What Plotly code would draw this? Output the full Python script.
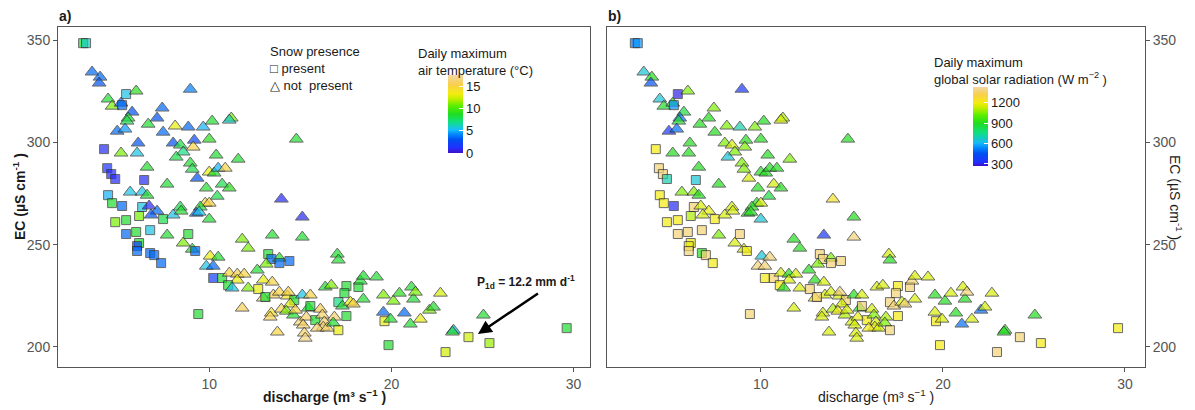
import plotly.graph_objects as go

# ---------------- data ----------------
discharge = [3.08,3.24,3.57,4.01,3.96,5.44,5.99,4.45,4.67,5.16,
5.22,5.77,5.55,5.49,4.95,5.38,7.42,7.14,6.65,7.47,
8.96,8.13,8.85,9.67,10.16,11.21,11.10,6.10,8.02,8.41,
9.18,10.0,9.12,8.57,8.19,10.38,11.59,4.23,5.16,6.04,
14.78,6.59,8.96,9.07,10.0,10.27,10.49,10.88,4.40,4.62,
4.84,6.43,9.34,7.69,9.84,10.71,11.10,10.44,4.45,5.66,
6.32,6.59,13.96,15.11,9.78,10.0,8.41,9.51,4.67,5.22,
6.32,6.70,7.14,6.81,7.47,8.02,8.46,9.29,9.45,10.0,
4.84,5.44,6.15,5.44,5.99,6.76,7.69,8.85,8.57,9.07,
9.23,6.15,6.04,6.04,6.76,6.98,7.36,10.05,10.49,9.84,
10.22,10.22,10.71,11.10,11.54,11.92,11.54,12.64,12.97,11.04,
11.26,12.14,12.69,13.46,13.52,12.97,11.81,9.40,11.81,12.14,
13.46,15.11,13.24,13.41,13.85,13.85,13.13,14.40,13.08,13.85,
14.29,14.34,14.67,15.11,15.55,13.41,13.35,13.96,14.45,14.23,
14.62,14.73,15.44,15.55,15.0,15.33,15.16,15.82,16.10,16.21,
16.32,16.26,15.93,16.48,16.87,16.81,17.09,13.74,15.22,15.27,
16.37,16.70,17.03,17.09,17.53,17.42,17.09,17.31,17.53,17.75,
17.91,18.19,18.30,18.46,18.46,19.18,19.56,20.11,20.44,21.10,
21.21,21.32,22.69,19.56,19.62,19.95,20.71,21.04,21.59,22.09,
22.31,23.41,23.35,25.05,19.84,22.97,24.23,25.38,29.62]

ec = [348.5,348.5,334.4,331.9,329.0,323.6,325.1,321.2,317.7,319.2,
318.2,314.8,311.9,310.4,305.5,306.5,316.8,311.9,308.9,305.0,
326.0,308.0,307.5,307.5,310.4,311.9,310.9,299.7,299.7,298.7,
301.1,301.6,297.7,295.3,292.8,293.8,291.8,296.7,294.8,294.8,
301.6,287.9,289.9,286.9,285.5,285.0,287.4,287.4,287.4,284.5,
282.1,281.6,282.5,279.6,277.7,279.6,277.7,273.7,274.2,275.7,
275.7,274.2,272.3,263.5,270.3,270.3,268.4,268.4,270.3,268.9,
268.4,268.9,266.4,264.5,262.5,264.5,266.4,265.4,265.9,262.5,
261.0,262.0,264.0,255.2,256.2,257.1,254.7,255.2,250.8,247.8,
246.9,250.8,249.3,246.9,245.9,244.9,241.0,244.4,243.9,239.5,
239.5,233.7,233.7,236.1,235.6,235.6,232.7,237.6,232.7,230.2,
228.8,228.8,228.3,231.7,225.4,223.9,219.0,216.1,252.7,248.3,
254.7,253.7,245.4,243.0,243.4,241.0,240.5,242.0,224.4,226.8,
224.9,226.8,222.9,225.4,225.4,216.6,214.6,218.5,221.0,217.5,
215.6,218.0,219.0,220.0,212.2,214.6,210.7,213.1,218.5,215.6,
212.2,209.7,209.2,209.2,214.6,211.7,208.2,207.3,206.8,204.3,
229.3,230.2,245.4,242.5,229.8,226.3,221.9,220.0,215.1,221.9,
221.0,229.3,232.2,234.6,223.4,234.2,225.4,222.4,226.3,229.3,
223.4,226.8,226.3,217.0,212.6,213.6,216.6,211.2,213.6,218.0,
219.5,208.2,207.3,215.6,200.9,197.5,204.8,201.9,209.2]

snow = [1,1,0,0,0,1,0,0,0,0,
1,0,0,0,0,0,0,0,0,0,
0,0,0,0,0,0,0,0,0,0,
0,0,0,0,0,0,0,1,0,0,
0,0,0,0,0,0,0,0,1,1,
1,1,0,0,0,0,0,0,1,0,
0,0,0,0,0,0,0,0,1,1,
1,0,0,0,1,0,0,0,0,0,
1,1,1,1,1,1,0,1,0,0,
1,1,1,1,1,1,1,0,0,0,
0,1,1,0,0,0,0,0,0,1,
0,0,1,0,0,0,0,1,0,0,
0,0,1,1,0,1,0,1,1,0,
0,0,1,0,0,0,0,0,0,0,
0,0,0,1,0,0,0,1,0,0,
0,0,0,0,0,0,1,0,0,0,
0,0,0,0,1,1,1,0,1,0,
0,1,0,0,0,0,0,0,0,0,
0,0,0,0,1,0,0,0,0,0,
0,0,0,0,1,1,1,1,1]

tmax = [8.5,6.0,3.5,3.5,3.0,5.5,9.0,8.5,11.0,3.5,
3.5,3.0,8.5,8.0,3.5,4.5,3.5,3.0,8.5,3.5,
4.0,13.0,3.5,5.0,8.5,11.0,6.0,3.0,3.0,8.0,
2.5,9.0,15.0,7.0,8.0,8.5,8.5,1.0,11.0,5.5,
8.5,8.5,8.5,8.0,13.0,8.5,5.0,15.0,1.5,1.0,
1.0,1.0,3.0,8.5,8.5,8.0,9.0,8.0,5.0,5.5,
5.5,8.5,1.0,1.0,15.0,15.0,8.0,8.5,8.5,3.5,
5.5,1.0,3.5,3.0,8.0,5.5,8.5,3.5,5.5,8.5,
11.0,8.5,11.0,3.5,8.5,5.5,8.5,8.5,11.0,8.5,
3.5,8.5,2.0,3.5,3.5,3.5,3.5,13.0,8.5,5.5,
3.5,2.0,8.5,15.0,15.5,15.0,13.0,8.5,13.0,8.5,
5.5,11.0,13.0,15.0,15.5,16.0,15.5,8.5,11.0,11.0,
8.5,8.5,8.5,3.5,8.5,3.5,11.0,3.5,8.5,15.0,
14.0,15.0,8.5,5.5,15.0,14.0,15.5,15.5,13.0,11.0,
8.5,15.0,8.5,8.5,16.0,16.0,16.0,8.5,15.5,16.0,
16.0,16.0,16.0,16.0,16.0,8.5,13.0,15.0,16.0,16.5,
8.5,11.0,8.5,8.5,8.5,8.5,7.0,8.5,8.5,13.0,
15.0,8.5,8.5,8.5,8.5,8.5,11.0,11.0,9.0,8.5,
8.5,11.0,12.5,3.5,13.0,8.5,3.5,8.5,13.0,11.0,
8.5,5.0,8.5,8.5,8.5,12.5,12.5,11.5,8.5]

radiation = [520,560,650,900,450,300,1050,650,880,900,
550,850,500,880,350,500,1050,900,900,900,
350,1050,700,1050,900,1100,1150,900,1050,1150,
900,900,1050,1050,650,900,1050,1200,900,900,
900,900,1050,1050,900,900,900,900,1370,1370,
700,650,1150,900,900,1150,900,850,1200,1050,
1050,900,1250,900,900,1150,1150,900,1200,320,
1370,1150,1180,1150,1200,1150,1150,900,900,650,
1200,1200,1100,1370,1370,1370,1050,1370,1150,1150,
1200,1200,1180,1370,900,1370,1200,650,1370,1370,
1370,1200,1370,1150,900,1150,1150,900,900,1200,
900,1150,1370,1150,1150,1200,1150,1370,900,900,
350,1370,1370,1370,1050,1370,1050,1370,1370,1150,
1150,1370,1370,900,1150,1150,1150,1100,1150,1200,
1100,1150,900,1370,1150,1180,1150,1200,1150,1050,
1150,1180,1200,1150,1100,1050,1370,1150,1150,1150,
1150,1150,1150,900,1200,1370,1370,1370,1200,1150,
1370,1370,1370,1150,1150,1150,900,900,1150,1150,
900,1370,1150,1150,1200,1150,900,500,1150,500,
1150,900,900,900,1200,1370,1370,1200,1200]

temp_ticks = [0, 5, 10, 15]
rad_ticks = [300, 600, 900, 1200]
ec_ticks = [200, 250, 300, 350]
q_ticks = [10, 20, 30]

# ---------------- styling ----------------
FONT = "Liberation Sans, Arial, sans-serif"
symbols = ["square" if s else "triangle-up" for s in snow]
sizes = [9 if s else 12 for s in snow]

temp_scale = [[0, '#4010c8'], [0.07, '#2030ff'], [0.17, '#0050f0'], [0.24, '#0088ff'],
              [0.3, '#18bff8'], [0.4, '#10e080'], [0.5, '#20dd20'], [0.6, '#58ee00'],
              [0.7, '#c8ee00'], [0.76, '#f4ec10'], [0.87, '#f8d048'], [1, '#f2d6a6']]
rad_scale = [[0, '#4010c8'], [0.05, '#2030ff'], [0.16, '#0050f0'], [0.23, '#0088ff'],
             [0.29, '#18b8f8'], [0.42, '#10e080'], [0.54, '#20dd20'], [0.64, '#58ee00'],
             [0.74, '#c8ee00'], [0.8, '#f4ec10'], [0.9, '#f8d048'], [1, '#f2d6a6']]

# the page has an 8px body margin, so the figure is 8px smaller than the window
OFF = 8
W, H = 1195 - OFF, 410 - OFF
ML, MR, MT, MB = 58 - OFF, 50, 27 - OFF, 43
PW = W - ML - MR
PH = H - MT - MB

def px(xpix):  # window pixel -> paper fraction
    return (xpix - 58) / PW

def py(ypix):
    return 1 - (ypix - 27) / PH

fig = go.Figure()

fig.add_trace(go.Scatter(
    x=discharge, y=ec, mode="markers", xaxis="x", yaxis="y", showlegend=False,
    marker=dict(symbol=symbols, size=sizes, color=tmax, colorscale=temp_scale,
                cmin=0, cmax=17.5, line=dict(color="#2a2a2a", width=1),
                showscale=True,
                colorbar=dict(x=px(448), xanchor="left", y=py(114), yanchor="middle",
                              thickness=15, thicknessmode="pixels", len=78, lenmode="pixels",
                              xpad=0, ypad=0, outlinewidth=0, tickvals=temp_ticks,
                              ticks="inside", tickcolor="white", ticklen=4,
                              tickfont=dict(family=FONT, size=13, color="#1a1a1a")))))

fig.add_trace(go.Scatter(
    x=discharge, y=ec, mode="markers", xaxis="x2", yaxis="y2", showlegend=False,
    marker=dict(symbol=symbols, size=sizes, color=radiation, colorscale=rad_scale,
                cmin=270, cmax=1430, line=dict(color="#2a2a2a", width=1),
                showscale=True,
                colorbar=dict(x=px(973), xanchor="left", y=py(126.5), yanchor="middle",
                              thickness=15, thicknessmode="pixels", len=79, lenmode="pixels",
                              xpad=0, ypad=0, outlinewidth=0, tickvals=rad_ticks,
                              ticks="inside", tickcolor="white", ticklen=4,
                              tickfont=dict(family=FONT, size=13, color="#1a1a1a")))))

axis_common = dict(showgrid=False, zeroline=False, showline=True, linecolor="#555",
                   linewidth=1, mirror=True, ticks="outside", ticklen=4, tickcolor="#555",
                   automargin=False,
                   tickfont=dict(family=FONT, size=14, color="#555"))

fig.update_layout(
    width=W, height=H, margin=dict(l=ML, r=MR, t=MT, b=MB, autoexpand=False),
    paper_bgcolor="white", plot_bgcolor="white", showlegend=False,
    font=dict(family=FONT, color="#1a1a1a"),
    xaxis=dict(domain=[0, px(590)], range=[1.7, 30.9], tickvals=q_ticks, anchor="y", **axis_common),
    yaxis=dict(domain=[0, 1], range=[190.2, 356.4], tickvals=ec_ticks, anchor="x", **axis_common),
    xaxis2=dict(domain=[px(607), 1], range=[1.55, 31.1], tickvals=q_ticks, anchor="y2", **axis_common),
    yaxis2=dict(domain=[0, 1], range=[190.2, 356.4], tickvals=ec_ticks, anchor="x2", side="right",
                **axis_common),
)

annos = [
    dict(text="<b>a)</b>", x=px(57), y=py(16), xanchor="left"),
    dict(text="<b>b)</b>", x=px(606), y=py(16), xanchor="left"),
    dict(text="<b>EC (µS cm<sup>-1</sup> )</b>", x=px(19), y=0.5, textangle=-90, xanchor="center"),
    dict(text="EC (µS cm<sup>-1</sup> )", x=px(1176), y=0.5, textangle=90, xanchor="center"),
    dict(text="<b>discharge (m³ s<sup>−1</sup> )</b>", x=px(324), y=py(396), xanchor="center"),
    dict(text="discharge (m³ s<sup>−1</sup> )", x=px(876), y=py(396), xanchor="center"),
    dict(text="Snow presence<br>□ present<br>△ not\u00a0 present", x=px(268), y=py(42),
         xanchor="left", yanchor="top", align="left", font=dict(size=13)),
    dict(text="Daily maximum<br>air temperature (°C)", x=px(416), y=py(44),
         xanchor="left", yanchor="top", align="left", font=dict(size=13)),
    dict(text="Daily maximum<br>global solar radiation (W m<sup>−2</sup> )", x=px(932), y=py(53),
         xanchor="left", yanchor="top", align="left", font=dict(size=13)),
]
for a in annos:
    a.setdefault("xref", "paper")
    a.setdefault("yref", "paper")
    a.setdefault("yanchor", "middle")
    a.setdefault("showarrow", False)
    a.setdefault("font", dict(size=14))

annos += [
    dict(text="<b>P<sub>1d</sub> = 12.2 mm d<sup>-1</sup></b>", x=27.4, y=231.7, xref="x", yref="y",
         xanchor="center", yanchor="middle", showarrow=False, font=dict(size=12)),
    dict(text=" ", x=24.75, y=206.3, xref="x", yref="y", ax=62, ay=-42, showarrow=True,
         arrowhead=2, arrowsize=1.1, arrowwidth=2.5, arrowcolor="black", font=dict(size=2)),
]
fig.update_layout(annotations=annos)

fig.write_html("out.html")
